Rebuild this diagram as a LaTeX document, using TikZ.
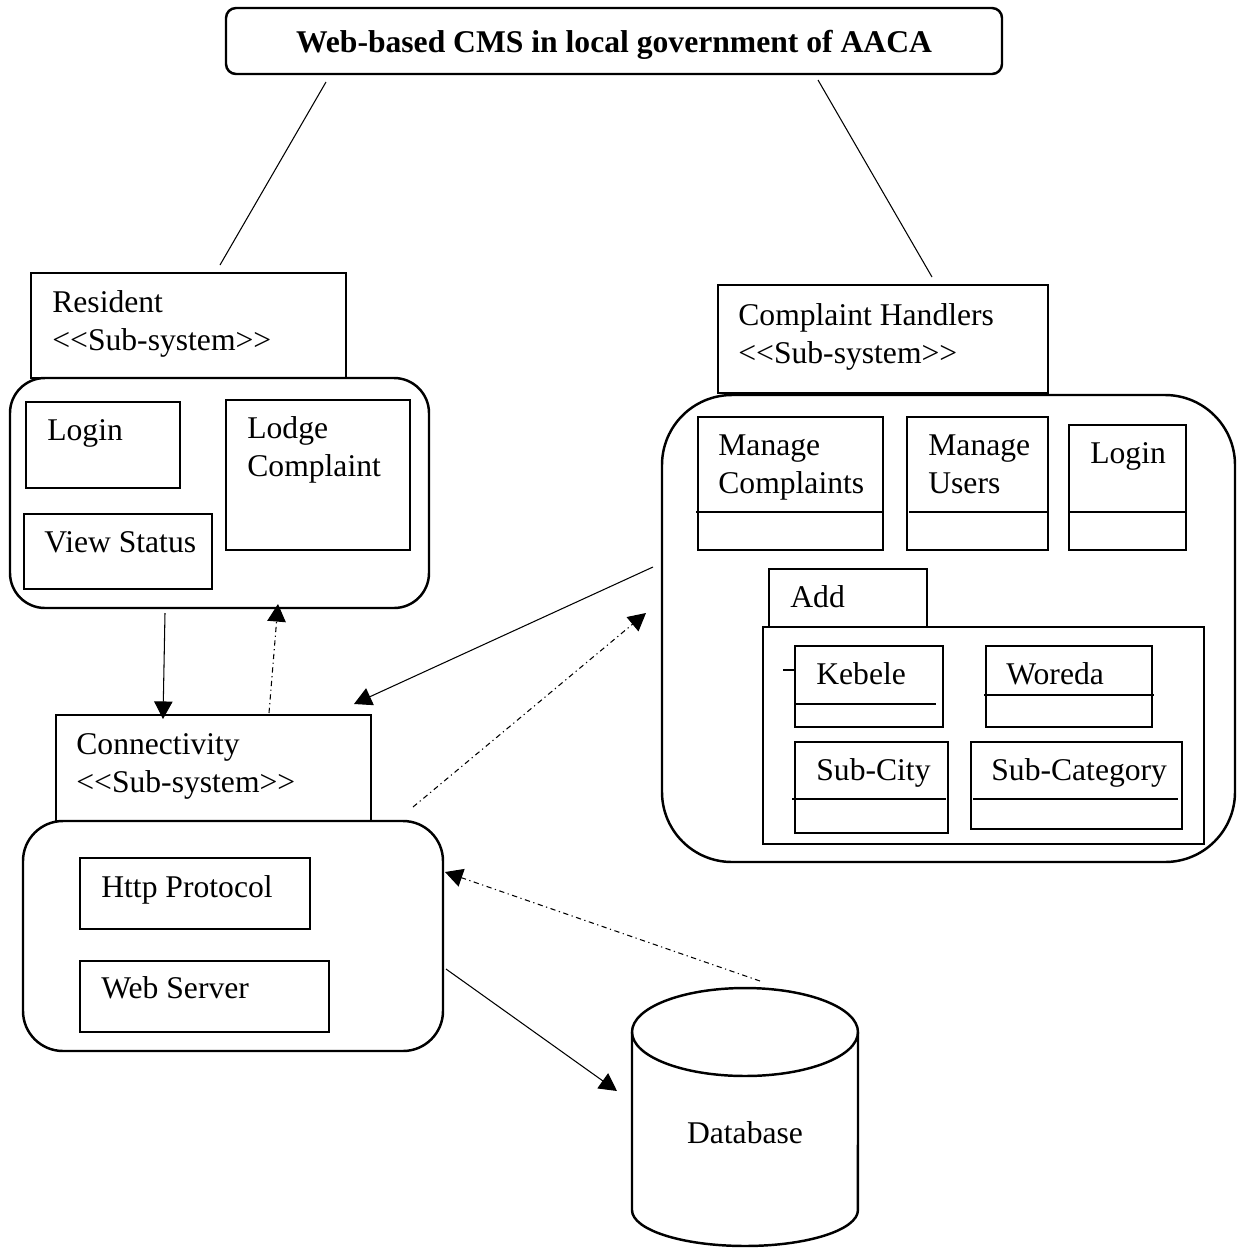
\documentclass[tikz,border=0pt]{standalone}
\usepackage{fontspec}
\setmainfont{Liberation Serif}
\usetikzlibrary{fit,arrows.meta}
\newcommand\labfont{\fontsize{18}{21.5}\selectfont}
\newcommand\subsys{<{}<Sub-system>{}>}
\tikzset{
  frame/.style={draw, line width=1.4pt, rounded corners=#1, inner sep=0pt},
  cell/.style={draw, line width=0.8pt, inner sep=0pt},
  lbl/.style={anchor=base west, inner sep=0pt, font=\labfont, align=left},
  link/.style={line width=0.6pt},
  flow/.style={link, -{Triangle[length=10pt,width=10.5pt]}},
  reply/.style={flow, dash pattern=on 3pt off 2pt on 0.7pt off 2pt},
  divider/.style={line width=0.8pt},
}
\begin{document}
\begin{tikzpicture}[x=0.02cm, y=-0.02cm]
\useasboundingbox (0,0) rectangle (1240,1248);

% ---- title ----
\node[frame=0.2cm, fit={(226,8) (1002,74)}] (title) {};
\node[anchor=base, inner sep=0pt, font=\labfont\bfseries] (titletext) at (614,52) {Web-based CMS in local government of AACA};

% ---- resident sub-system (two-line labels are anchored on their last baseline) ----
\node[cell, fit={(31,273) (346,378)}] (reshead) {};
\node[lbl] (restext) at (52,350) {Resident\\\subsys};
\node[frame=0.7cm, fit={(10,378) (429,608)}] (resbody) {};
\node[cell, fit={(26,402) (180,488)}] (reslogin) {};
\node[lbl] at (47,440) {Login};
\node[cell, fit={(226,400) (410,550)}] (lodge) {};
\node[lbl] at (247,476) {Lodge\\Complaint};
\node[cell, fit={(24,514) (212,589)}] (viewstatus) {};
\node[lbl] at (44,552) {View Status};

% ---- complaint handlers sub-system ----
\node[cell, fit={(718,285) (1048,393)}] (chhead) {};
\node[lbl] (chtext) at (738,363) {Complaint Handlers\\\subsys};
\node[frame=1.4cm, fit={(662,395) (1235,862)}] (chbody) {};
\node[cell, fit={(698,417) (883,550)}] (mancomp) {};
\node[lbl] at (718,493) {Manage\\Complaints};
\draw[divider] (696,512) -- (883,512);
\node[cell, fit={(907,417) (1048,550)}] (manusers) {};
\node[lbl] at (928,493) {Manage\\Users};
\draw[divider] (909,512) -- (1048,512);
\node[cell, fit={(1069,425) (1186,550)}] (chlogin) {};
\node[lbl] at (1090,463) {Login};
\draw[divider] (1070,512) -- (1186,512);

% ---- "Add" package ----
\node[cell, fit={(769,569) (927,627)}] (addtab) {};
\node[lbl] at (790,607) {Add};
\node[cell, fit={(763,627) (1204,844)}] (addbody) {};
\node[cell, fit={(795,646) (943,727)}] (kebele) {};
\node[lbl] at (816,684) {Kebele};
\draw[divider] (795,704) -- (936,704);
\draw[divider] (783,670) -- (795,670);
\node[cell, fit={(986,646) (1152,727)}] (woreda) {};
\node[lbl] at (1006,684) {Woreda};
\draw[divider] (984,695) -- (1154,695);
\node[cell, fit={(795,742) (948,833)}] (subcity) {};
\node[lbl] at (816,780) {Sub-City};
\draw[divider] (792,799) -- (946,799);
\node[cell, fit={(971,742) (1182,829)}] (subcat) {};
\node[lbl] at (991,780) {Sub-Category};
\draw[divider] (973,799) -- (1178,799);

% ---- connectivity sub-system ----
\node[cell, fit={(56,715) (371,821)}] (conhead) {};
\node[lbl] (context) at (76,792) {Connectivity\\\subsys};
\node[frame=0.8cm, fit={(23,821) (443,1051)}] (conbody) {};
\node[cell, fit={(80,858) (310,929)}] (http) {};
\node[lbl] at (101,897) {Http Protocol};
\node[cell, fit={(80,961) (329,1032)}] (websrv) {};
\node[lbl] at (101,998) {Web Server};

% ---- database ----
\draw[line width=1.4pt] (632,1032) -- (632,1210)
  arc[start angle=180, end angle=360, x radius=2.26cm, y radius=0.72cm]
  -- (858,1032);
\draw[line width=1.4pt] (745,1032) ellipse [x radius=2.26cm, y radius=0.88cm];
\node[anchor=base, inner sep=0pt, font=\labfont] (db) at (745,1143) {Database};

% ---- connector end points ----
\coordinate (t1) at (326,82);   \coordinate (r1) at (220,265);
\coordinate (t2) at (818,80);   \coordinate (c1) at (932,277);
\coordinate (a1) at (165,613);  \coordinate (a2) at (163,719);
\coordinate (b1) at (269,713);  \coordinate (b2) at (278,604);
\coordinate (d1) at (653,567);  \coordinate (d2) at (354,704);
\coordinate (e1) at (413,807);  \coordinate (e2) at (646,613);
\coordinate (f1) at (760,981);  \coordinate (f2) at (445,872);
\coordinate (g1) at (446,969);  \coordinate (g2) at (617,1091);

% ---- connectors ----
\draw[link] (t1) -- (r1);
\draw[link] (t2) -- (c1);
\draw[flow] (a1) -- (a2);
\draw[reply] (b1) -- (b2);
\draw[flow] (d1) -- (d2);
\draw[reply] (e1) -- (e2);
\draw[reply] (f1) -- (f2);
\draw[flow] (g1) -- (g2);
\end{tikzpicture}
\end{document}
